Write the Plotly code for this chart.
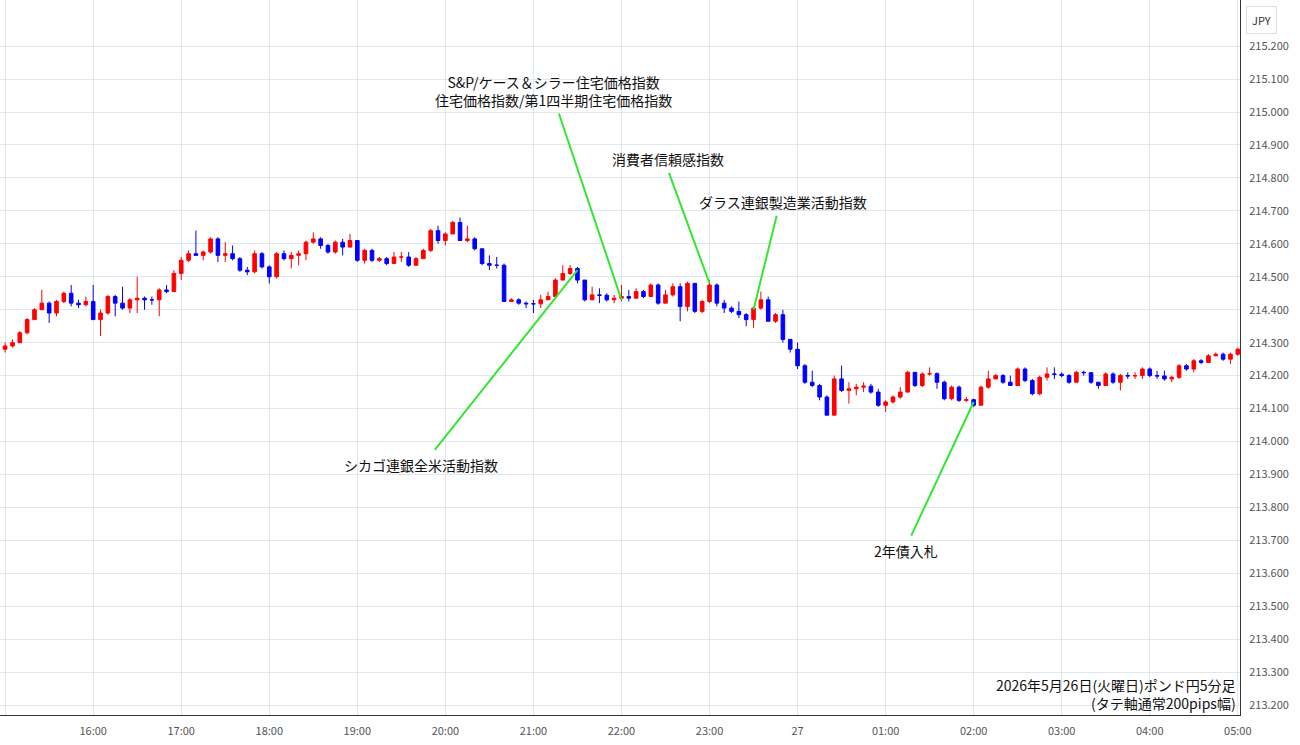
import plotly.graph_objects as go
import pandas as pd

start_time = "2026-05-26 15:00"
opens = [214.28,214.29,214.30,214.33,214.37,214.40,214.42,214.39,214.425,214.45,214.42,214.415,214.425,214.37,214.39,214.44,214.42,214.405,214.43,214.435,
214.43,214.43,214.46,214.455,214.51,214.55,214.57,214.565,214.575,214.615,214.565,214.57,214.555,214.52,214.515,214.57,214.53,214.50,214.57,214.555,
214.565,214.57,214.605,214.615,214.595,214.575,214.605,214.59,214.61,214.55,214.58,214.55,214.555,214.54,214.56,214.56,214.535,214.555,214.58,214.64,
214.61,214.63,214.665,214.61,214.615,214.585,214.54,214.535,214.535,214.425,214.43,214.42,214.418,214.418,214.43,214.44,214.49,214.51,214.525,214.49,
214.43,214.445,214.444,214.43,214.435,214.44,214.435,214.455,214.44,214.475,214.42,214.445,214.47,214.41,214.48,214.395,214.425,214.475,214.42,214.405,
214.395,214.385,214.37,214.405,214.43,214.365,214.385,214.31,214.28,214.23,214.18,214.17,214.135,214.08,214.19,214.155,214.16,214.165,214.168,214.15,
214.11,214.12,214.135,214.15,214.21,214.17,214.205,214.206,214.18,214.13,214.165,214.125,214.127,214.11,214.165,214.19,214.20,214.18,214.17,214.22,
214.185,214.145,214.195,214.205,214.204,214.20,214.18,214.21,214.209,214.18,214.17,214.205,214.18,214.20,214.199,214.20,214.22,214.20,214.199,214.19,
214.195,214.23,214.22,214.245,214.24,214.26,214.265,214.25,214.265]
closes = [214.29,214.30,214.33,214.37,214.40,214.42,214.39,214.425,214.45,214.42,214.415,214.425,214.37,214.39,214.44,214.42,214.405,214.43,214.435,214.43,
214.43,214.46,214.455,214.51,214.55,214.57,214.565,214.575,214.615,214.565,214.57,214.555,214.52,214.515,214.57,214.53,214.50,214.57,214.555,214.565,
214.57,214.605,214.615,214.595,214.575,214.605,214.59,214.61,214.55,214.58,214.55,214.555,214.54,214.56,214.56,214.535,214.555,214.58,214.64,214.61,
214.63,214.665,214.61,214.615,214.585,214.54,214.535,214.535,214.425,214.43,214.42,214.418,214.418,214.43,214.44,214.49,214.51,214.525,214.49,214.43,
214.445,214.444,214.43,214.435,214.44,214.435,214.455,214.44,214.475,214.42,214.445,214.47,214.41,214.48,214.395,214.425,214.475,214.42,214.405,214.395,
214.385,214.37,214.405,214.43,214.365,214.385,214.31,214.28,214.23,214.18,214.17,214.135,214.08,214.19,214.155,214.16,214.165,214.168,214.15,214.11,
214.12,214.135,214.15,214.21,214.17,214.205,214.206,214.18,214.13,214.165,214.125,214.127,214.11,214.165,214.19,214.20,214.18,214.17,214.22,214.185,
214.145,214.195,214.205,214.204,214.20,214.18,214.21,214.209,214.18,214.17,214.205,214.18,214.20,214.199,214.20,214.22,214.20,214.199,214.19,214.195,
214.23,214.22,214.245,214.24,214.26,214.265,214.25,214.265,214.28]
highs = [214.30,214.31,214.335,214.375,214.405,214.46,214.425,214.43,214.455,214.475,214.43,214.44,214.475,214.40,214.445,214.445,214.47,214.435,214.50,214.44,
214.44,214.465,214.475,214.52,214.56,214.58,214.64,214.58,214.62,214.62,214.605,214.595,214.56,214.53,214.58,214.575,214.535,214.575,214.58,214.575,
214.58,214.61,214.635,214.62,214.60,214.61,214.615,214.63,214.61,214.585,214.585,214.56,214.56,214.575,214.575,214.575,214.56,214.585,214.645,214.655,
214.635,214.67,214.68,214.655,214.62,214.585,214.565,214.56,214.54,214.435,214.435,214.425,214.43,214.445,214.455,214.495,214.535,214.535,214.53,214.49,
214.47,214.465,214.45,214.445,214.475,214.46,214.465,214.46,214.48,214.48,214.46,214.48,214.48,214.485,214.48,214.43,214.49,214.48,214.43,214.41,
214.425,214.39,214.41,214.455,214.44,214.39,214.40,214.295,214.30,214.235,214.215,214.175,214.14,214.20,214.23,214.18,214.175,214.18,214.175,214.16,
214.125,214.14,214.165,214.215,214.21,214.21,214.225,214.21,214.185,214.17,214.17,214.135,214.13,214.17,214.215,214.205,214.205,214.20,214.225,214.225,
214.19,214.20,214.225,214.225,214.21,214.205,214.215,214.215,214.21,214.18,214.21,214.21,214.205,214.21,214.21,214.225,214.225,214.215,214.215,214.20,
214.235,214.235,214.25,214.25,214.265,214.27,214.27,214.27,214.285]
lows = [214.27,214.285,214.30,214.325,214.37,214.40,214.36,214.38,214.42,214.41,214.405,214.41,214.37,214.32,214.385,214.38,214.40,214.39,214.39,214.40,
214.415,214.38,214.45,214.455,214.49,214.545,214.565,214.55,214.57,214.545,214.545,214.55,214.515,214.505,214.51,214.525,214.48,214.495,214.55,214.525,
214.535,214.55,214.60,214.585,214.57,214.57,214.565,214.59,214.545,214.54,214.545,214.545,214.535,214.54,214.545,214.53,214.535,214.555,214.575,214.60,
214.595,214.63,214.61,214.605,214.58,214.535,214.52,214.525,214.425,214.425,214.415,214.405,214.39,214.405,214.43,214.44,214.49,214.505,214.48,214.425,
214.43,214.42,214.425,214.42,214.425,214.425,214.44,214.435,214.44,214.415,214.42,214.44,214.365,214.395,214.39,214.39,214.42,214.41,214.39,214.39,
214.375,214.35,214.345,214.40,214.365,214.36,214.30,214.27,214.22,214.175,214.165,214.125,214.08,214.08,214.15,214.115,214.14,214.15,214.145,214.105,
214.09,214.115,214.13,214.15,214.165,214.165,214.20,214.16,214.125,214.125,214.12,214.12,214.105,214.11,214.16,214.19,214.175,214.17,214.17,214.18,
214.14,214.14,214.185,214.19,214.195,214.175,214.18,214.20,214.175,214.16,214.17,214.175,214.155,214.19,214.19,214.19,214.195,214.19,214.185,214.18,
214.19,214.215,214.21,214.235,214.24,214.26,214.245,214.235,214.26]

times = pd.date_range(start_time, periods=len(closes), freq="5min")

tick_vals = pd.date_range("2026-05-26 15:00", "2026-05-27 05:00", freq="1h")
tick_text = ["15:00","16:00","17:00","18:00","19:00","20:00","21:00","22:00","23:00","27",
             "01:00","02:00","03:00","04:00","05:00"]
y_ticks = [213.2,213.3,213.4,213.5,213.6,213.7,213.8,213.9,214.0,214.1,214.2,214.3,214.4,214.5,
           214.6,214.7,214.8,214.9,215.0,215.1,215.2]

# (label, event time, event price, label time, label price, label x-shift)
events = [
    ("シカゴ連銀全米活動指数", "2026-05-26 21:30", 214.52, "2026-05-26 19:52", 213.97, -13),
    ("S&amp;P/ケース＆シラー住宅価格指数<br>住宅価格指数/第1四半期住宅価格指数", "2026-05-26 22:00", 214.43, "2026-05-26 21:17", 215.00, -5),
    ("消費者信頼感指数", "2026-05-26 23:00", 214.48, "2026-05-26 22:32", 214.82, 0),
    ("ダラス連銀製造業活動指数", "2026-05-26 23:30", 214.40, "2026-05-26 23:46", 214.69, 6),
    ("2年債入札", "2026-05-27 02:00", 214.12, "2026-05-27 01:17", 213.71, -5),
]

fig = go.Figure(go.Candlestick(
    x=times, open=opens, high=highs, low=lows, close=closes,
    increasing=dict(line=dict(color="#ff0000", width=1), fillcolor="#ff0000"),
    decreasing=dict(line=dict(color="#0000ff", width=1), fillcolor="#0000ff"),
    whiskerwidth=0, showlegend=False))

font = "Noto Sans CJK JP"
anns = []
for text, x, y, tx, ty, dx in events:
    anns.append(dict(x=x, y=y, ax=tx, ay=ty, xref="x", yref="y", axref="x", ayref="y",
                     showarrow=True, arrowhead=0, arrowwidth=2, arrowcolor="#33e633",
                     text="", standoff=0))
    anns.append(dict(x=tx, y=ty, xref="x", yref="y", text=text, showarrow=False, xshift=dx,
                     yanchor="bottom" if ty > y else "top", font=dict(size=14, color="#111", family=font),
                     yshift=0 if ty > y else -2))
anns.append(dict(x=0.998, y=0, xref="paper", yref="paper", xanchor="right", yanchor="bottom",
                 text="2026年5月26日(火曜日)ポンド円5分足<br>(タテ軸通常200pips幅)", align="right",
                 showarrow=False, font=dict(size=14, color="#111", family=font)))
anns.append(dict(x=1.005, y=1, xref="paper", yref="paper", xanchor="left", yanchor="top", yshift=-6,
                 text="JPY", showarrow=False, font=dict(size=11, color="#333", family=font),
                 bordercolor="#dddddd", borderwidth=1, borderpad=5, bgcolor="white"))

fig.update_layout(
    width=1300, height=745, margin=dict(l=0, r=60, t=0, b=30, autoexpand=False),
    paper_bgcolor="white", plot_bgcolor="white",
    font=dict(family=font),
    annotations=anns,
    xaxis=dict(range=["2026-05-26 14:56:30", "2026-05-27 05:01:30"], tickvals=tick_vals, ticktext=tick_text,
               showgrid=True, gridcolor="#dfe7f0", rangeslider=dict(visible=False), automargin=False,
               tickfont=dict(size=11, color="#555"), showline=True, linecolor="#333", ticks="",
               ticklabelstandoff=6),
    yaxis=dict(side="right", range=[213.17, 215.34], tickvals=y_ticks, ticktext=[f"{v:.3f}" for v in y_ticks],
               showgrid=True, gridcolor="#dfe7f0", tickfont=dict(size=11, color="#555"), automargin=False,
               showline=True, linecolor="#333", ticks="", zeroline=False, ticklabelstandoff=6),
)
fig.write_html("out.html", config={"displayModeBar": False},
               post_script="document.body.style.margin='0';document.body.style.overflow='hidden';")
